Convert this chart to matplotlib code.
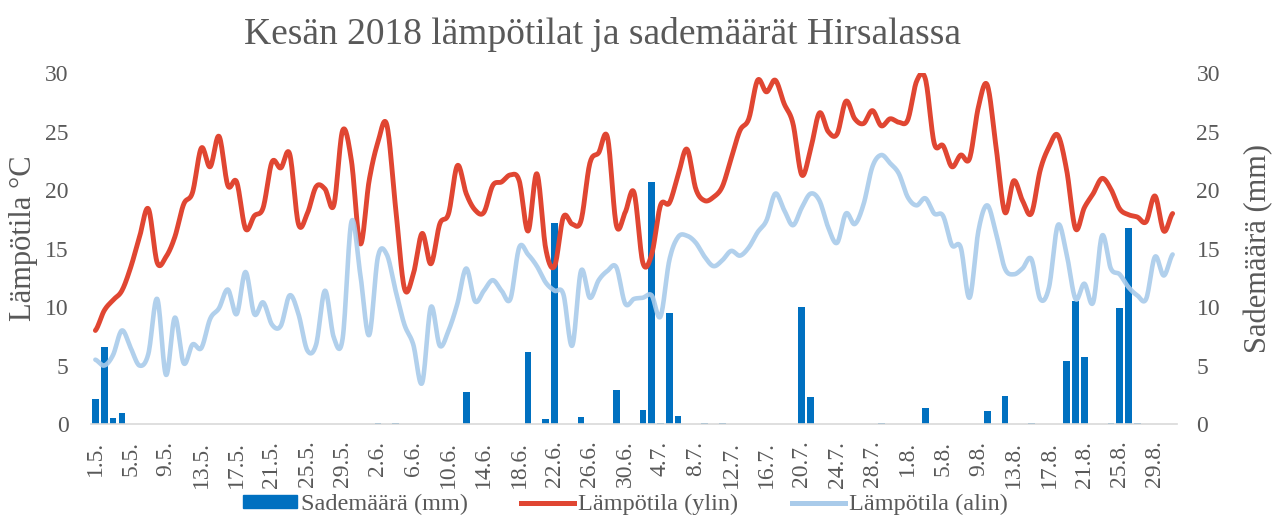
import numpy as np
import matplotlib
matplotlib.use('Agg')
import matplotlib.pyplot as plt
from matplotlib.patches import Patch
from matplotlib.lines import Line2D

plt.rcParams['font.family'] = ['Liberation Serif', 'DejaVu Serif']

# päivät 1.5. - 31.8.2018, joka neljäs nimetty
tick_labels = ['1.5.', '5.5.', '9.5.', '13.5.', '17.5.', '21.5.', '25.5.', '29.5.',
               '2.6.', '6.6.', '10.6.', '14.6.', '18.6.', '22.6.', '26.6.', '30.6.',
               '4.7.', '8.7.', '12.7.', '16.7.', '20.7.', '24.7.', '28.7.',
               '1.8.', '5.8.', '9.8.', '13.8.', '17.8.', '21.8.', '25.8.', '29.8.']

tmax = [8.0, 9.7, 10.6, 11.4, 13.4, 16.0, 18.4, 13.8, 14.3, 16.0,
        18.8, 19.8, 23.6, 22.0, 24.6, 20.4, 20.7, 16.7, 17.8, 18.5,
        22.4, 21.9, 23.1, 17.1, 18.0, 20.3, 20.1, 18.7, 25.1, 22.5,
        15.4, 20.8, 24.1, 25.6, 18.5, 11.6, 12.8, 16.3, 13.7, 17.1,
        18.0, 22.1, 19.7, 18.3, 18.1, 20.4, 20.7, 21.3, 20.8, 16.5,
        21.4, 15.0, 13.5, 17.7, 17.1, 17.4, 22.3, 23.2, 24.5, 17.0,
        18.1, 19.8, 13.8, 14.5, 18.7, 18.9, 21.3, 23.5, 20.1, 19.1,
        19.4, 20.3, 22.7, 25.1, 26.1, 29.4, 28.4, 29.4, 27.4, 25.7,
        21.3, 23.5, 26.6, 25.0, 24.8, 27.6, 26.1, 25.7, 26.8, 25.5,
        26.1, 25.8, 26.0, 29.3, 29.5, 24.0, 23.8, 22.0, 23.0, 22.7,
        27.1, 29.0, 23.7, 18.1, 20.8, 19.1, 18.0, 21.7, 23.7, 24.7,
        21.7, 16.7, 18.5, 19.7, 21.0, 20.1, 18.4, 17.9, 17.7, 17.3,
        19.5, 16.5, 18.0]

tmin = [5.5, 5.0, 5.9, 8.0, 6.5, 5.0, 6.0, 10.7, 4.2, 9.1,
        5.2, 6.8, 6.5, 9.0, 9.9, 11.5, 9.4, 13.0, 9.4, 10.4,
        8.5, 8.4, 11.0, 9.4, 6.3, 6.8, 11.4, 7.4, 7.3, 17.3,
        12.8, 7.6, 14.3, 14.5, 11.4, 8.5, 6.8, 3.5, 10.0, 6.7,
        8.0, 10.3, 13.3, 10.5, 11.4, 12.3, 11.4, 10.7, 15.1, 14.5,
        13.5, 12.1, 11.4, 11.1, 6.7, 13.1, 10.8, 12.3, 13.1, 13.4,
        10.3, 10.7, 10.8, 11.0, 9.2, 14.0, 16.0, 16.1, 15.5, 14.3,
        13.5, 14.0, 14.8, 14.4, 15.1, 16.4, 17.4, 19.7, 18.3, 17.0,
        18.5, 19.7, 19.1, 16.8, 15.5, 18.0, 17.1, 18.8, 22.0, 23.0,
        22.3, 21.4, 19.4, 18.7, 19.3, 18.0, 17.8, 15.3, 15.1, 10.8,
        16.5, 18.7, 16.3, 13.3, 12.8, 13.3, 14.1, 10.7, 11.7, 17.0,
        14.5, 10.7, 12.0, 10.4, 16.1, 13.3, 12.8, 11.7, 11.0, 10.7,
        14.3, 12.7, 14.5]

rain = [0.0] * 123
for d, v in {0: 2.1, 1: 6.6, 2: 0.5, 3: 0.9, 32: 0.05, 34: 0.05, 42: 2.7,
             49: 6.2, 51: 0.4, 52: 17.2, 55: 0.6, 59: 2.9, 62: 1.2, 63: 20.7,
             64: 0.05, 65: 9.5, 66: 0.7, 69: 0.05, 71: 0.05, 80: 10.0, 81: 2.3,
             89: 0.05, 94: 1.4, 101: 1.1, 103: 2.4, 106: 0.05, 110: 5.4,
             111: 10.5, 112: 5.7, 115: 0.1, 116: 9.9, 117: 16.8, 118: 0.1}.items():
    rain[d] = v


def smooth(vals, n=16):
    # Catmull-Rom, vastaa Excelin pehmennettyä viivaa
    y = np.asarray(vals, float)
    p = np.concatenate([[y[0]], y, [y[-1]]])
    t = np.linspace(0, 1, n, endpoint=False)[:, None]
    p0, p1, p2, p3 = p[:-3], p[1:-2], p[2:-1], p[3:]
    seg = 0.5 * (2 * p1 + (-p0 + p2) * t + (2 * p0 - 5 * p1 + 4 * p2 - p3) * t ** 2
                 + (-p0 + 3 * p1 - 3 * p2 + p3) * t ** 3)
    xs = (np.arange(len(y) - 1) + t).T.ravel()
    return np.append(xs, len(y) - 1), np.append(seg.T.ravel(), y[-1])


grey = '#595959'
c_bar = '#0070C0'
c_max = '#E04632'
c_min = '#A9CBEA'

fig = plt.figure(figsize=(12.74, 5.19), dpi=100)
ax = fig.add_axes([0.0714, 0.183, 0.8525, 0.676])
ax2 = ax.twinx()

x = np.arange(len(tmax))
ax2.bar(x, rain, width=0.75, color=c_bar)

xs, ys = smooth(tmax)
ax.plot(xs, ys, color=c_max, lw=3.5, solid_capstyle='round')
xs, ys = smooth(tmin)
ax.plot(xs, ys, color=c_min, lw=3.3, alpha=0.9, solid_capstyle='round')

ax.set_zorder(ax2.get_zorder() + 1)
ax.patch.set_visible(False)

for a in (ax, ax2):
    a.set_ylim(0, 30)
    a.set_yticks(range(0, 31, 5))
    a.set_xlim(-0.5, len(tmax) - 0.5)
    for s in a.spines.values():
        s.set_visible(False)
    a.tick_params(length=0, labelsize=17, colors=grey)
ax.spines['bottom'].set_visible(True)
ax.spines['bottom'].set_color('#D9D9D9')
ax.spines['bottom'].set_linewidth(1.2)

ax.set_xticks(range(0, len(tmax), 4))
ax.set_xticklabels(tick_labels, rotation=90)
ax.tick_params(axis='x', pad=12)
ax.tick_params(axis='y', pad=16)
ax2.tick_params(axis='y', pad=14)

ax.set_ylabel('Lämpötila °C', fontsize=22, color=grey)
ax.yaxis.set_label_coords(-0.049, 0.53)
ax2.set_ylabel('Sademäärä (mm)', fontsize=22, color=grey, labelpad=17)

fig.suptitle('Kesän 2018 lämpötilat ja sademäärät Hirsalassa', fontsize=27,
             color=grey, y=0.968, x=0.473)

handles = [Patch(color=c_bar), Line2D([], [], color=c_max, lw=3.6),
           Line2D([], [], color=c_min, lw=3.6)]
fig.legend(handles, ['Sademäärä (mm)', 'Lämpötila (ylin)', 'Lämpötila (alin)'],
           loc='lower center', bbox_to_anchor=(0.491, -0.035), ncol=3, frameon=False,
           fontsize=17.5, handlelength=2.2, handleheight=0.45, columnspacing=2.2,
           handletextpad=0.15, labelcolor=grey)

fig.savefig('out.png', dpi=100)
